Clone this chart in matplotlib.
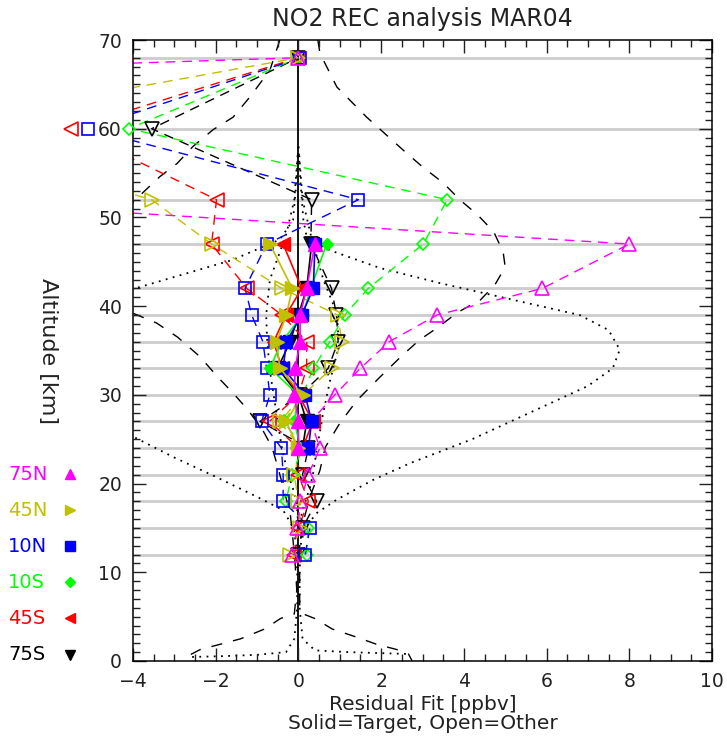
import numpy as np
import matplotlib.pyplot as plt
from matplotlib.lines import Line2D
from matplotlib.ticker import MultipleLocator

# altitudes of the "Other" (open, dashed) and "Target" (solid, filled) curves
alts_other = [12, 15, 18, 21, 24, 27, 30, 33, 36, 39, 42, 47, 52, 60, 68]
alts_target = [24, 27, 30, 33, 36, 39, 42, 47]

other_75N = [-0.15, -0.03, 0.05, 0.24, 0.52, 0.30, 0.88, 1.5, 2.2, 3.35, 5.9, 8.0, -9.2, -53.0, 0.0]
other_45N = [-0.2, 0.05, 0.0, -0.1, 0.05, -0.45, 0.12, 0.8, 1.05, 0.95, -0.4, -2.1, -3.55, -9.5, 0.0]
other_10N = [0.16, 0.28, -0.37, -0.37, -0.41, -0.89, -0.69, -0.77, -0.86, -1.13, -1.29, -0.77, 1.45, -5.1, 0.05]
other_10S = [0.2, 0.23, -0.3, -0.16, 0.1, -0.35, 0.1, 0.36, 0.76, 1.12, 1.69, 3.02, 3.6, -4.1, 0.0]
other_45S = [-0.1, 0.0, 0.24, 0.0, 0.0, -0.7, 0.0, 0.2, 0.2, -0.4, -1.25, -2.1, -1.98, -5.5, 0.0]
other_75S = [0.0, 0.1, 0.44, 0.1, 0.24, -0.93, 0.05, 0.72, 0.96, 0.92, 0.8, 0.3, 0.32, -3.55, 0.0]

target_75N = [0.0, 0.0, -0.1, -0.08, 0.04, 0.04, 0.2, 0.4]
target_45N = [0.0, -0.3, 0.1, -0.45, -0.53, -0.29, -0.15, -0.69]
target_10N = [0.24, 0.32, 0.16, -0.37, -0.29, 0.08, 0.36, 0.4]
target_10S = [0.05, -0.1, 0.0, -0.69, -0.4, 0.1, 0.3, 0.68]
target_45S = [0.1, 0.35, 0.0, -0.4, -0.6, -0.3, 0.08, -0.37]
target_75S = [0.1, 0.2, 0.0, -0.5, -0.2, 0.0, 0.2, 0.32]

# black dashed envelope
dash_left_y = [70, 66.6, 63.6, 61.3, 59.9, 58, 56.1, 54.6, 52.8, 49, 45, 42, 39.2, 38.1, 36.5, 34.3, 32,
               30.2, 28.3, 26, 24.1, 21.9, 18.9, 16.7, 13.6, 11, 8, 5.3, 4.8, 3.6, 2.5, 1.9, 1.3, 0.6, 0]
dash_left_x = [-0.45, -0.69, -1.17, -1.58, -2.06, -2.55, -2.93, -3.35, -3.76, -4.6, -5.2, -5.0, -4.0, -3.43,
               -2.92, -2.38, -1.95, -1.58, -1.22, -0.86, -0.64, -0.5, -0.33, -0.2, -0.13, -0.08, -0.04, -0.1,
               -0.43, -0.82, -1.4, -1.88, -2.37, -2.66, -2.7]
dash_right_y = [70, 68.5, 64.7, 61.3, 57.6, 55.7, 53.9, 52, 50.3, 48.4, 46.1, 44.4, 42.4, 40.7, 39.3, 37.6,
                36.2, 34.4, 32, 29.4, 26.8, 24.1, 21.5, 18.5, 15.6, 13.3, 10, 6, 5.3, 4.8, 3.6, 2.7, 1.9,
                1.3, 0.8, 0]
dash_right_x = [0.47, 0.52, 0.93, 1.65, 2.53, 3.0, 3.5, 3.9, 4.33, 4.72, 4.95, 5.0, 4.75, 4.4, 3.85, 3.37,
                2.93, 2.5, 1.97, 1.42, 1.0, 0.65, 0.52, 0.28, 0.11, 0.04, 0.03, 0.03, 0.12, 0.39, 0.82, 1.4,
                1.88, 2.37, 2.66, 2.75]

# black dotted envelopes
dot_left_y = [58, 54, 49.7, 47.5, 45.2, 42.2, 40, 35, 30, 25.3, 23, 20.7, 18.5, 17, 15, 13, 10, 6, 2.5,
              1.0, 0.7, 0.55, 0.45]
dot_left_x = [0, -0.05, -0.13, -0.45, -1.6, -3.8, -5.5, -7.5, -6.5, -4.0, -3.03, -1.97, -1.0, -0.37,
              -0.12, -0.05, -0.03, -0.03, -0.1, -0.3, -1.0, -1.8, -2.6]
dot_right_y = [58, 54, 49.7, 47.8, 46.3, 44.3, 42.6, 40.7, 39, 37.3, 35.1, 33, 31, 28, 25, 22.3, 20.4,
               18.2, 16.7, 15, 13, 10, 6, 2.5, 1.2, 1.0, 0.8]
dot_right_x = [0, 0.05, 0.12, 0.2, 0.76, 1.97, 3.42, 5.2, 6.8, 7.5, 7.77, 7.6, 7.0, 5.6, 4.2, 2.7, 1.8,
               0.93, 0.45, 0.15, 0.05, 0.03, 0.03, 0.1, 0.4, 1.2, 2.6]
dot_in_left_y = [57, 52, 48, 43, 39, 36.5, 33, 30, 27, 24, 21, 19, 17, 15]
dot_in_left_x = [-0.02, -0.1, -0.3, -0.69, -0.78, -0.76, -0.7, -0.6, -0.5, -0.4, -0.25, -0.1, -0.03, 0.0]
dot_in_right_y = [57, 52, 48, 43, 39.2, 35.5, 31.7, 28, 24, 21, 19.6, 17, 15]
dot_in_right_x = [0.02, 0.1, 0.3, 0.6, 0.93, 0.98, 0.77, 0.6, 0.45, 0.35, 0.28, 0.1, 0.0]

grid_alts = [12, 15, 18, 21, 24, 27, 30, 33, 36, 39, 42, 47, 52, 60, 68]

regions = ['75N', '45N', '10N', '10S', '45S', '75S']
colors = ['#ff00ff', '#c0c000', '#0000ff', '#00ff00', '#ff0000', '#000000']
markers = ['^', '>', 's', 'D', '<', 'v']
msizes = [10, 10, 9, 6.5, 10, 10]
others = [other_75N, other_45N, other_10N, other_10S, other_45S, other_75S]
targets = [target_75N, target_45N, target_10N, target_10S, target_45S, target_75S]

plt.rcParams['font.family'] = 'DejaVu Sans'
fig = plt.figure(figsize=(7.27, 7.40), dpi=100)
ax = fig.add_axes([133 / 727, 79 / 740, 579 / 727, 621 / 740])

for a in grid_alts:
    ax.axhline(a, color='#cccccc', linewidth=2, zorder=0.5)
ax.axvline(0, color='black', linewidth=1.3, zorder=1)

ax.plot(dash_left_x, dash_left_y, color='black', linewidth=1, dashes=(8, 8), zorder=1)
ax.plot(dash_right_x, dash_right_y, color='black', linewidth=1, dashes=(8, 8), zorder=1)
for xs, ys in [(dot_left_x, dot_left_y), (dot_right_x, dot_right_y),
               (dot_in_left_x, dot_in_left_y), (dot_in_right_x, dot_in_right_y)]:
    ax.plot(xs, ys, color='black', linewidth=1.3, linestyle=(0, (1, 3)), zorder=1)

# open markers / dashed lines (Other)
for i in range(len(regions) - 1, -1, -1):
    ax.plot(others[i], alts_other, color=colors[i], linewidth=1, dashes=(7, 5), zorder=2)
    ax.plot(others[i], alts_other, linestyle='none', marker=markers[i], markersize=msizes[i],
            markerfacecolor='none', markeredgecolor=colors[i], markeredgewidth=1.2,
            clip_on=False, zorder=3)

# filled markers / solid lines (Target)
for i in range(len(regions) - 1, -1, -1):
    ax.plot(targets[i], alts_target, color=colors[i], linewidth=1.2, marker=markers[i],
            markersize=msizes[i], markerfacecolor=colors[i], markeredgecolor=colors[i], zorder=4)

ax.set_xlim(-4, 10)
ax.set_ylim(0, 70)
ax.xaxis.set_major_locator(MultipleLocator(2))
ax.xaxis.set_minor_locator(MultipleLocator(0.5))
ax.yaxis.set_major_locator(MultipleLocator(10))
ax.yaxis.set_minor_locator(MultipleLocator(1))
ax.tick_params(which='both', direction='in', top=True, right=True, width=1, labelsize=13.5,
               colors='#222222')
ax.tick_params(which='major', length=9.5, pad=8)
ax.tick_params(which='minor', length=5)
for s in ax.spines.values():
    s.set_linewidth(1.1)

ax.set_title('NO2 REC analysis MAR04', fontsize=17, color='#222222', pad=10)
ax.set_xlabel('Residual Fit [ppbv]\nSolid=Target, Open=Other', fontsize=14.5, color='#222222',
              linespacing=1.0, labelpad=3)
ax.set_ylabel('Altitude [km]', fontsize=16, color='#222222', rotation=270,
              va='center', ha='center')
ax.yaxis.set_label_coords(-85 / 579, 0.5)

# legend at the left
leg_y = [474, 510, 546, 582, 618, 655]
for i in range(len(regions)):
    yf = 1 - leg_y[i] / 740
    fig.text(8 / 727, yf, regions[i], color=colors[i], fontsize=14, va='center', ha='left')
    fig.add_artist(Line2D([70 / 727], [yf], marker=markers[i], color=colors[i],
                          markersize=msizes[i] * 0.75, transform=fig.transFigure))

fig.savefig('out.png', dpi=100)
